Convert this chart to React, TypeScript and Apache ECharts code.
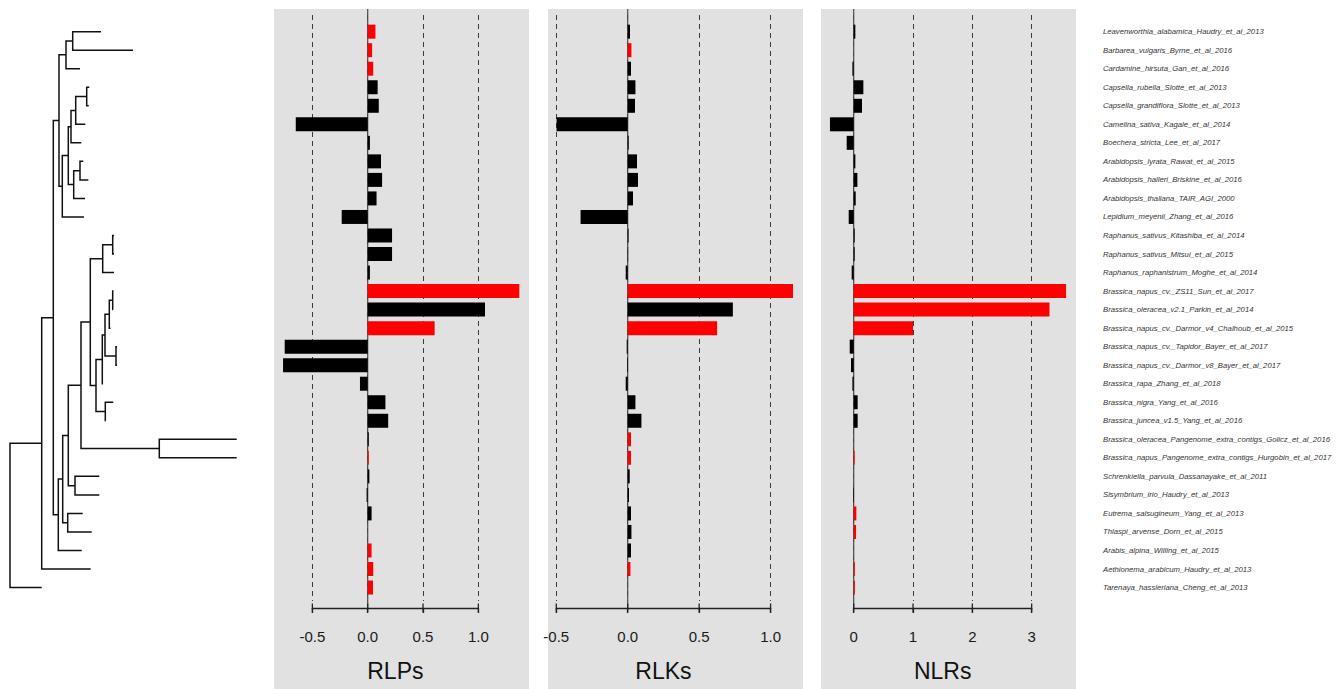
import React, { useEffect, useRef } from "react";
import * as echarts from "echarts";

// ---------------- data ----------------
const species = [
  "Leavenworthia_alabamica_Haudry_et_al_2013",
  "Barbarea_vulgaris_Byrne_et_al_2016",
  "Cardamine_hirsuta_Gan_et_al_2016",
  "Capsella_rubella_Slotte_et_al_2013",
  "Capsella_grandiflora_Slotte_et_al_2013",
  "Camelina_sativa_Kagale_et_al_2014",
  "Boechera_stricta_Lee_et_al_2017",
  "Arabidopsis_lyrata_Rawat_et_al_2015",
  "Arabidopsis_halleri_Briskine_et_al_2016",
  "Arabidopsis_thaliana_TAIR_AGI_2000",
  "Lepidium_meyenii_Zhang_et_al_2016",
  "Raphanus_sativus_Kitashiba_et_al_2014",
  "Raphanus_sativus_Mitsui_et_al_2015",
  "Raphanus_raphanistrum_Moghe_et_al_2014",
  "Brassica_napus_cv._ZS11_Sun_et_al_2017",
  "Brassica_oleracea_v2.1_Parkin_et_al_2014",
  "Brassica_napus_cv._Darmor_v4_Chalhoub_et_al_2015",
  "Brassica_napus_cv._Tapidor_Bayer_et_al_2017",
  "Brassica_napus_cv._Darmor_v8_Bayer_et_al_2017",
  "Brassica_rapa_Zhang_et_al_2018",
  "Brassica_nigra_Yang_et_al_2016",
  "Brassica_juncea_v1.5_Yang_et_al_2016",
  "Brassica_oleracea_Pangenome_extra_contigs_Golicz_et_al_2016",
  "Brassica_napus_Pangenome_extra_contigs_Hurgobin_et_al_2017",
  "Schrenkiella_parvula_Dassanayake_et_al_2011",
  "Sisymbrium_irio_Haudry_et_al_2013",
  "Eutrema_salsugineum_Yang_et_al_2013",
  "Thlaspi_arvense_Dorn_et_al_2015",
  "Arabis_alpina_Willing_et_al_2015",
  "Aethionema_arabicum_Haudry_et_al_2013",
  "Tarenaya_hassleriana_Cheng_et_al_2013",
];

const rlps = [0.07, 0.04, 0.05, 0.09, 0.1, -0.65, 0.02, 0.12, 0.13, 0.08, -0.235, 0.22, 0.22, 0.02, 1.37, 1.06, 0.605, -0.75, -0.765, -0.07, 0.16, 0.185, 0.01, 0.01, 0.015, -0.01, 0.035, 0, 0.035, 0.05, 0.048];
const rlpsRed = [1, 1, 1, 0, 0, 0, 0, 0, 0, 0, 0, 0, 0, 0, 1, 0, 1, 0, 0, 0, 0, 0, 0, 1, 0, 0, 0, 0, 1, 1, 1];

const rlks = [0.016, 0.026, 0.023, 0.054, 0.051, -0.498, 0.007, 0.065, 0.072, 0.037, -0.33, 0.006, 0.003, -0.014, 1.157, 0.736, 0.626, -0.007, -0.005, -0.014, 0.054, 0.096, 0.023, 0.023, 0.014, 0.009, 0.023, 0.026, 0.023, 0.019, 0];
const rlksRed = [0, 1, 0, 0, 0, 0, 0, 0, 0, 0, 0, 0, 0, 0, 1, 0, 1, 0, 0, 0, 0, 0, 1, 1, 0, 0, 0, 0, 0, 1, 0];

const nlrs = [0.028, 0, -0.022, 0.163, 0.14, -0.4, -0.118, 0.028, 0.062, 0.034, -0.084, 0.017, 0.017, -0.034, 3.58, 3.3, 1.0, -0.067, -0.045, -0.022, 0.067, 0.067, 0, 0.017, 0, -0.01, 0.045, 0.04, 0, 0.02, 0.02];
const nlrsRed = [0, 0, 0, 0, 0, 0, 0, 0, 0, 0, 0, 0, 0, 0, 1, 1, 1, 0, 0, 0, 0, 0, 0, 1, 0, 0, 1, 1, 0, 1, 1];

const rlpsTicks = [-0.5, 0, 0.5, 1.0];
const rlpsTickLabels = ["-0.5", "0.0", "0.5", "1.0"];
const rlksTicks = [-0.5, 0, 0.5, 1.0];
const rlksTickLabels = ["-0.5", "0.0", "0.5", "1.0"];
const nlrsTicks = [0, 1, 2, 3];
const nlrsTickLabels = ["0", "1", "2", "3"];

// dendrogram: tip heights of the leaves (row order), hclust-style merges
// (negative = leaf row, positive = earlier merge) and merge heights
const leafTip = [91, 123, 70, 79.3, 78.7, 75.3, 71.3, 73.3, 78.3, 75, 74, 104, 104, 104, 103.5, 103, 100.5, 107, 107, 93, 103.3, 95.5, 226.7, 226.7, 89.3, 89.3, 72.7, 81.7, 71.7, 80.7, 31.7];
const treeMerge = [
  [-1, -2], [1, -3], [-4, -5], [3, -6], [4, -7], [-8, -9], [6, -10], [5, 7], [8, -11], [2, 9],
  [-12, -13], [11, -14], [-15, -16], [13, -17], [-18, -19], [14, 15], [16, -20], [-21, -22], [17, 18], [12, 19],
  [-23, -24], [20, 21], [-25, -26], [22, 23], [-27, -28], [24, 25], [26, -29], [10, 27], [28, -30], [29, -31],
];
const mergeHeight = [62.7, 56, 76.7, 65.7, 61, 70, 63.7, 58.3, 52.3, 49, 102.7, 92.7, 102.7, 99.3, 106, 95, 92.3, 95.3, 86, 80.3, 149.3, 71, 65, 58.3, 57.7, 52.7, 48.3, 43.3, 31.7, 0];

// ---------------- layout ----------------
const FONT = "Liberation Sans, Arial, sans-serif";
const ROW_TOP = 22.4;
const ROW_H = 574.4;
const PANEL_W = 255;
const AXIS_COLOR = "#222";

const panels = [
  { name: "RLPs", values: rlps, red: rlpsRed, ticks: rlpsTicks, labels: rlpsTickLabels, min: -0.8467, max: 1.4575, left: 274 },
  { name: "RLKs", values: rlks, red: rlksRed, ticks: rlksTicks, labels: rlksTickLabels, min: -0.558, max: 1.227, left: 548 },
  { name: "NLRs", values: nlrs, red: nlrsRed, ticks: nlrsTicks, labels: nlrsTickLabels, min: -0.551, max: 3.747, left: 821 },
];

function buildTree() {
  const mergeY: number[] = [];
  const segs: any[] = [];
  const posY = (r: number) => (r < 0 ? -r : mergeY[r - 1]);
  const posX = (r: number) => (r < 0 ? leafTip[-r - 1] : mergeHeight[r - 1]);
  treeMerge.forEach(([a, b], i) => {
    const ya = posY(a);
    const yb = posY(b);
    const h = mergeHeight[i];
    mergeY.push((ya + yb) / 2);
    segs.push({
      coords: [
        [posX(a), ya],
        [h, ya],
        [h, yb],
        [posX(b), yb],
      ],
    });
  });
  return segs;
}

function mkGrid(g: any) {
  return { ...g, containLabel: false, outerBoundsMode: "none" };
}

function buildOption() {
  const grid: any[] = [];
  const xAxis: any[] = [];
  const yAxis: any[] = [];
  const series: any[] = [];
  const graphic: any[] = [];

  // tree
  grid.push(mkGrid({ left: 10, top: ROW_TOP, width: 230, height: ROW_H }));
  xAxis.push({ type: "value", gridIndex: 0, min: 0, max: 230, show: false });
  yAxis.push({ type: "value", gridIndex: 0, min: 0.5, max: species.length + 0.5, inverse: true, show: false });
  series.push({
    type: "lines",
    coordinateSystem: "cartesian2d",
    xAxisIndex: 0,
    yAxisIndex: 0,
    polyline: true,
    silent: true,
    data: buildTree(),
    lineStyle: { color: "#111", width: 1.5, opacity: 1 },
  });

  panels.forEach((p, k) => {
    const gA = 1 + 3 * k;
    const gB = gA + 1;
    const gC = gA + 2;
    const tickMin = p.ticks[0];
    const tickMax = p.ticks[p.ticks.length - 1];
    const interval = p.ticks[1] - p.ticks[0];
    const px = (v: number) => p.left + ((v - p.min) / (p.max - p.min)) * PANEL_W;
    const bLeft = px(tickMin);
    const bWidth = px(tickMax) - bLeft;

    graphic.push({
      type: "rect",
      silent: true,
      z: -10,
      shape: { x: p.left, y: 9, width: PANEL_W, height: 689 - 9 },
      style: { fill: "#e1e1e1" },
    });

    grid.push(mkGrid({ left: p.left, top: ROW_TOP, width: PANEL_W, height: ROW_H }));
    grid.push(mkGrid({ left: bLeft, top: 15, width: bWidth, height: 586 }));
    grid.push(mkGrid({ left: bLeft, top: 9, width: bWidth, height: 599 }));

    // bars
    xAxis.push({ type: "value", gridIndex: gA, min: p.min, max: p.max, show: false });
    yAxis.push({
      type: "category",
      gridIndex: gA,
      data: species,
      inverse: true,
      show: k === 2,
      position: "right",
      axisLine: { show: false },
      axisTick: { show: false },
      splitLine: { show: false },
      axisLabel: {
        show: k === 2,
        interval: 0,
        margin: 27,
        align: "left",
        fontSize: 7.7,
        fontStyle: "italic",
        color: "#333",
        fontFamily: FONT,
      },
    });

    // labels, name, dashed grid
    const fmt = (v: number) => {
      const idx = p.ticks.findIndex((t) => Math.abs(t - v) < 1e-6);
      return idx >= 0 ? p.labels[idx] : "";
    };
    xAxis.push({
      type: "value",
      gridIndex: gB,
      position: "bottom",
      min: tickMin,
      max: tickMax,
      interval,
      offset: 7,
      axisLine: { show: false },
      axisTick: { show: false },
      axisLabel: { show: true, margin: 21, fontSize: 15, color: "#1a1a1a", fontFamily: FONT, formatter: fmt },
      splitLine: { show: true, lineStyle: { type: [5, 4], color: "#3a3a3a", width: 1 } },
      name: p.name,
      nameLocation: "middle",
      nameGap: 51,
      nameTextStyle: { fontSize: 23, color: "#111", fontFamily: FONT },
    });
    yAxis.push({ type: "value", gridIndex: gB, min: 0, max: 1, show: false });

    // axis line, tick marks and zero line drawn on the panel's tick scale
    xAxis.push({
      type: "value",
      gridIndex: gC,
      position: "bottom",
      min: tickMin,
      max: tickMax,
      interval,
      show: true,
      axisLine: { show: true, onZero: false, lineStyle: { color: AXIS_COLOR, width: 1.3 } },
      axisTick: { show: true, inside: false, length: 5, lineStyle: { color: AXIS_COLOR, width: 1.3 } },
      axisLabel: { show: false },
      splitLine: { show: false },
    });
    yAxis.push({ type: "value", gridIndex: gC, min: 0, max: 1, show: false });

    series.push({
      type: "line",
      xAxisIndex: gC,
      yAxisIndex: gC,
      data: [
        [0, 0],
        [0, 1],
      ],
      symbol: "none",
      silent: true,
      z: 1,
      lineStyle: { color: "#4a4a4a", width: 1.2 },
    });
    series.push({
      type: "scatter",
      xAxisIndex: gC,
      yAxisIndex: gC,
      data: p.ticks.map((t) => [t, 0]),
      symbol: "rect",
      symbolSize: [1.3, 9],
      silent: true,
      z: 4,
      itemStyle: { color: AXIS_COLOR, opacity: 1 },
    });

    series.push({
      type: "bar",
      xAxisIndex: gA,
      yAxisIndex: gA,
      barWidth: 14,
      silent: true,
      z: 3,
      data: p.values.map((v, i) => ({
        value: v,
        itemStyle: { color: p.red[i] ? "#ff0000" : "#000000" },
      })),
    });
  });

  return {
    animation: false,
    backgroundColor: "#ffffff",
    grid,
    xAxis,
    yAxis,
    series,
    graphic: { elements: graphic },
  };
}

export default function App() {
  const ref = useRef<HTMLDivElement>(null);
  useEffect(() => {
    if (!ref.current) return;
    const chart = echarts.init(ref.current, undefined, { renderer: "svg" });
    chart.setOption(buildOption() as any);
    return () => chart.dispose();
  }, []);
  return (
    <div
      ref={ref}
      style={{ position: "fixed", left: 0, top: 0, width: 1340, height: 689 }}
    />
  );
}
